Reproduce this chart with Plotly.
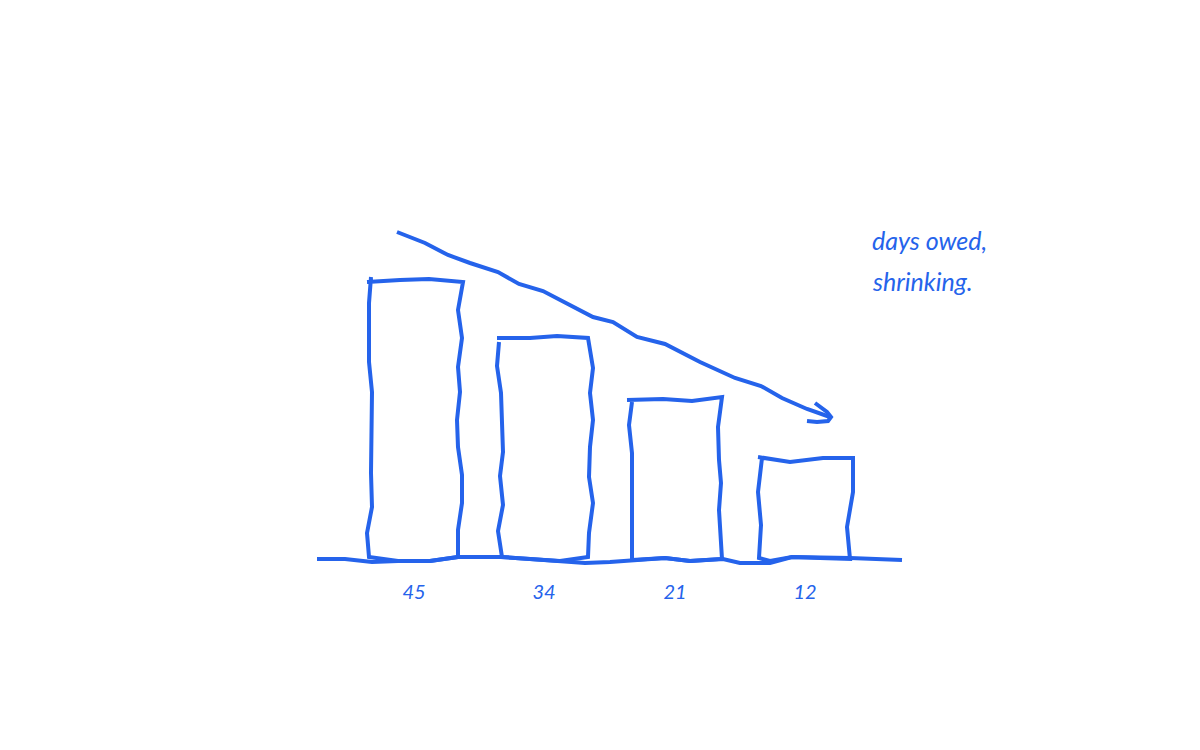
import plotly.graph_objects as go

# days owed, one bar per invoice round
days = [45, 34, 21, 12]
note_lines = ["days owed,", "shrinking."]

# hand drawn strokes (x, height in days)
baseline_x = [31.7, 34.5, 37.2, 39.8, 43.0, 45.8, 48.0, 50.2, 53.0, 55.7, 58.5, 61.0, 63.2, 66.5, 69.0, 72.3, 74.0, 77.0, 79.2, 85.0, 90.2]
baseline_y = [0.16, 0.16, -0.32, -0.16, -0.16, 0.48, 0.48, 0.48, 0.16, -0.16, -0.48, -0.32, 0, 0.32, -0.16, 0.16, -0.48, -0.48, 0.48, 0.32, 0]

bar1_x = [37.1, 36.9, 36.9, 37.2, 37.1, 37.2, 36.7, 36.9, 39.8, 43.0, 45.8, 45.8, 46.2, 46.2, 45.8, 45.7, 46.0, 45.8, 46.2, 45.8, 46.3, 42.9, 40.0, 36.7]
bar1_y = [45.28, 41.12, 31.68, 26.88, 13.92, 8.48, 4.32, 0.48, -0.16, -0.16, 0.48, 4.8, 9.12, 13.6, 18.08, 22.4, 26.88, 30.88, 35.52, 40, 44.48, 44.96, 44.8, 44.48]

bar2_x = [49.9, 49.7, 50.1, 50.3, 50.0, 50.3, 49.8, 50.2, 53.0, 56.0, 58.8, 58.9, 59.3, 58.9, 59.0, 59.3, 59.0, 59.3, 58.8, 55.7, 53.0, 49.7]
bar2_y = [34.88, 31.04, 26.72, 17.28, 13.44, 8.8, 4.64, 0.48, 0.16, -0.16, 0.48, 4.32, 9.12, 13.28, 18.08, 22.4, 26.72, 30.72, 35.52, 35.84, 35.52, 35.52]

bar3_x = [63.2, 62.9, 63.2, 63.2, 63.2, 66.5, 69.0, 72.2, 71.9, 72.1, 71.9, 71.8, 72.2, 69.2, 66.3, 62.7]
bar3_y = [25.28, 21.6, 17.12, 7.52, 0, 0.32, -0.16, 0.16, 8, 12.32, 16, 21.28, 26.08, 25.44, 25.76, 25.6]

bar4_x = [76.2, 75.8, 76.1, 75.9, 77.0, 79.2, 82.0, 85.0, 84.7, 85.3, 85.3, 82.3, 79.0, 75.8]
bar4_y = [16.32, 10.88, 5.6, 0.32, -0.16, 0.48, 0.32, 0.16, 5.28, 10.88, 16.32, 16.32, 15.68, 16.48]

trend_x = [39.7, 42.5, 44.8, 47.0, 49.8, 51.9, 54.3, 56.7, 59.3, 61.3, 63.7, 66.5, 70.0, 73.5, 76.1, 78.2, 80.7, 83.0]
trend_y = [52.48, 50.72, 48.8, 47.52, 46.08, 44.16, 43.04, 40.96, 38.88, 38.08, 35.68, 34.56, 31.68, 29.12, 27.84, 25.92, 24.16, 22.88]

head_x = [81.5, 82.7, 83.1, 82.8, 81.7, 80.7]
head_y = [25.12, 23.68, 22.88, 22.24, 22.08, 22.24]

INK = "#2563eb"
FONT = "Lato"

fig = go.Figure()

strokes = [
    (baseline_x, baseline_y),
    (bar1_x, bar1_y),
    (bar2_x, bar2_y),
    (bar3_x, bar3_y),
    (bar4_x, bar4_y),
    (trend_x, trend_y),
    (head_x, head_y),
]
for xs, ys in strokes:
    fig.add_trace(go.Scatter(x=xs, y=ys, mode="lines", line=dict(color=INK, width=4), hoverinfo="skip"))

for text, y in zip(note_lines, [51.2, 44.64]):
    fig.add_annotation(x=87.0, y=y, text="<i>" + text + "</i>", showarrow=False, xanchor="left",
                       font=dict(family=FONT, size=25, color=INK))

fig.update_layout(
    width=1200,
    height=750,
    margin=dict(l=0, r=0, t=0, b=172),
    paper_bgcolor="white",
    plot_bgcolor="white",
    showlegend=False,
    xaxis=dict(
        range=[0, 120],
        tickmode="array",
        tickvals=[41.4, 54.4, 67.5, 80.5],
        ticktext=["<i>%d</i>" % d for d in days],
        tickfont=dict(family=FONT, size=20, color=INK),
        ticks="",
        showgrid=False,
        zeroline=False,
        showline=False,
    ),
    yaxis=dict(range=[-2.88, 89.6], visible=False),
)

# page margin would push the chart 8px off
fig.write_html("out.html", config={"displayModeBar": False}, post_script="document.body.style.margin = '0';")
